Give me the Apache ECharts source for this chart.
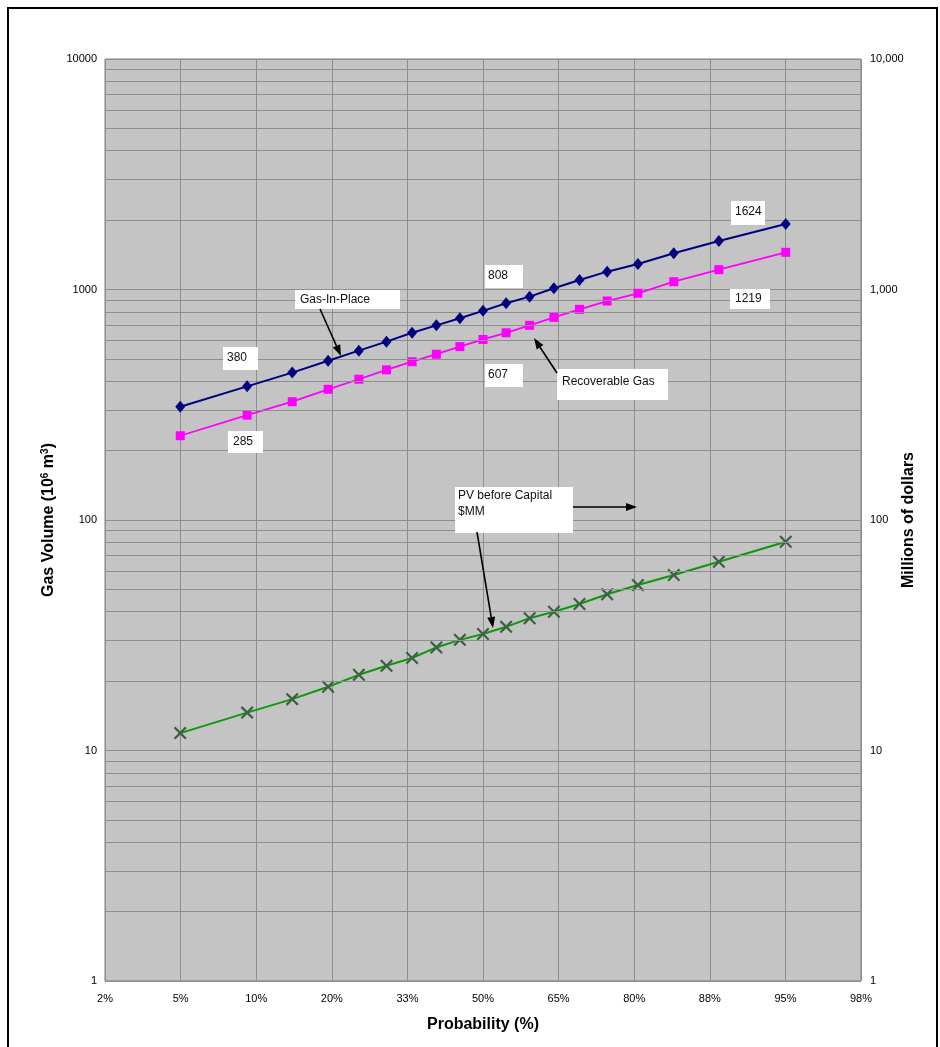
<!DOCTYPE html>
<html><head><meta charset="utf-8">
<script src="https://cdn.jsdelivr.net/npm/echarts@6/dist/echarts.min.js"></script>
<style>html,body{margin:0;padding:0;background:#fff}#c{width:940px;height:1047px}</style>
</head><body><div id="c"></div>
<script>
// ---- data ----
const probabilities = [5,10,15,20,25,30,35,40,45,50,55,60,65,70,75,80,85,90,95];
const gasInPlace = [310,380,436,491,543,594,649,699,750,808,871,931,1012,1100,1195,1290,1436,1624,1923];
const recoverableGas = [232,285,326,369,408,448,486,524,565,607,649,699,757,820,891,963,1081,1219,1450];
const pvBeforeCapital = [11.9,14.6,16.7,18.9,21.3,23.3,25.2,28.0,30.2,32.0,34.4,37.5,40.0,43.2,47.6,52.2,57.7,65.9,80.5];
const xTickLabels = ['2%','5%','10%','20%','33%','50%','65%','80%','88%','95%','98%'];
const minorGridValues = [2,3,4,5,6,7,8,9,20,30,40,50,60,70,80,90,200,300,400,500,600,700,800,900,2000,3000,4000,5000,6000,7000,8000,9000];

// probability scale transform (inverse normal CDF, Acklam)
function probit(p){
  const a=[-39.69683028665376,220.9460984245205,-275.9285104469687,138.3577518672690,-30.66479806614716,2.506628277459239];
  const b=[-54.47609879822406,161.5858368580409,-155.6989798598866,66.80131188771972,-13.28068155288572];
  const c=[-0.007784894002430293,-0.3223964580411365,-2.400758277161838,-2.549732539343734,4.374664141464968,2.938163982698783];
  const d=[0.007784695709041462,0.3224671290700398,2.445134137142996,3.754408661907416];
  const pl=0.02425;
  let q,r;
  if(p<pl){q=Math.sqrt(-2*Math.log(p));return (((((c[0]*q+c[1])*q+c[2])*q+c[3])*q+c[4])*q+c[5])/((((d[0]*q+d[1])*q+d[2])*q+d[3])*q+1);}
  if(p>1-pl){q=Math.sqrt(-2*Math.log(1-p));return -(((((c[0]*q+c[1])*q+c[2])*q+c[3])*q+c[4])*q+c[5])/((((d[0]*q+d[1])*q+d[2])*q+d[3])*q+1);}
  q=p-0.5;r=q*q;
  return (((((a[0]*r+a[1])*r+a[2])*r+a[3])*r+a[4])*r+a[5])*q/(((((b[0]*r+b[1])*r+b[2])*r+b[3])*r+b[4])*r+1);
}
const step = 0.41075;
const xs = probabilities.map(p => probit(p/100));
const pairs = arr => arr.map((v,i)=>[xs[i], v]);

const FONT = '"Liberation Sans", Arial, sans-serif';
const GRID = '#8e8e8e';

// annotation helpers (pixel layer)
function box(x,y,w,h,lines,tx,ty){
  const els=[{type:'rect',shape:{x,y,width:w,height:h},style:{fill:'#fff',stroke:null},z:100}];
  lines.forEach((t,i)=>els.push({type:'text',x:tx,y:ty+i*16,z:101,style:{text:t,fill:'#111',fontSize:12,fontFamily:FONT,verticalAlign:'middle',align:'left'}}));
  return els;
}
function arrow(x1,y1,x2,y2){
  const dx=x2-x1,dy=y2-y1,len=Math.hypot(dx,dy),ux=dx/len,uy=dy/len,L=11,W=4;
  const bx=x2-ux*L,by=y2-uy*L;
  return [
    {type:'line',z:102,shape:{x1,y1,x2:bx,y2:by},style:{stroke:'#000',lineWidth:1.6}},
    {type:'polygon',z:102,shape:{points:[[x2,y2],[bx-uy*W,by+ux*W],[bx+uy*W,by-ux*W]]},style:{fill:'#000'}}
  ];
}
const graphics = [
  {type:'rect',shape:{x:8,y:8,width:929,height:1100},style:{fill:null,stroke:'#000',lineWidth:2},z:0,silent:true},
  ...box(223,347,35,23,['380'],227,358),
  ...box(228,431,35,22,['285'],233,442),
  ...box(295,290,105,19,['Gas-In-Place'],300,300),
  ...box(485,265,38,23,['808'],488,276),
  ...box(485,364,38,23,['607'],488,375),
  ...box(557,369,111,31,['Recoverable Gas'],562,382),
  ...box(731,201,34,24,['1624'],735,212),
  ...box(730,289,40,20,['1219'],735,299),
  ...box(455,487,118,46,['PV before Capital','$MM'],458,496),
  ...arrow(320,309,341,356),
  ...arrow(557,373,534,338),
  ...arrow(573,507,637,507),
  ...arrow(477,532,493,628)
];

const chart = echarts.init(document.getElementById('c'), null, {renderer:'canvas'});
chart.setOption({
  animation:false,
  backgroundColor:'#fff',
  textStyle:{fontFamily:FONT},
  grid:{left:105,right:79,top:59,bottom:66,show:true,backgroundColor:'#c4c4c4',borderColor:'#7a7a7a',borderWidth:1},
  xAxis:{
    type:'value', min:-5*step, max:5*step, interval:step,
    axisLine:{show:false}, axisTick:{show:false},
    splitLine:{show:true,lineStyle:{color:GRID,width:1}},
    axisLabel:{color:'#000',fontSize:11,fontFamily:FONT,margin:12,showMinLabel:true,showMaxLabel:true,
      formatter:v=>xTickLabels[Math.round(v/step)+5]},
    name:'Probability (%)', nameLocation:'middle', nameGap:36, nameMoveOverlap:false,
    nameTextStyle:{fontSize:16,fontWeight:'bold',color:'#000',fontFamily:FONT}
  },
  yAxis:[{
    type:'log', logBase:10, min:1, max:10000, position:'left',
    axisLine:{show:false}, axisTick:{show:false},
    splitLine:{show:true,lineStyle:{color:GRID,width:1}},
    axisLabel:{color:'#000',fontSize:11,fontFamily:FONT,margin:8,showMinLabel:true,showMaxLabel:true,formatter:v=>String(Math.round(v))},
    name:'{a|Gas Volume (10}{s|6}{a| m}{s|3}{a|)}', nameLocation:'middle', nameGap:47, nameRotate:90, nameMoveOverlap:false,
    nameTextStyle:{rich:{a:{fontSize:16,fontWeight:'bold',color:'#000',fontFamily:FONT},s:{fontSize:10,fontWeight:'bold',color:'#000',fontFamily:FONT,verticalAlign:'top',padding:[0,0,8,0]}}}
  },{
    type:'log', logBase:10, min:1, max:10000, position:'right',
    axisLine:{show:false}, axisTick:{show:false}, splitLine:{show:false},
    axisLabel:{color:'#000',fontSize:11,fontFamily:FONT,margin:9,showMinLabel:true,showMaxLabel:true,formatter:v=>Math.round(v).toLocaleString('en-US')},
    name:'Millions of dollars', nameLocation:'middle', nameGap:40, nameRotate:90, nameMoveOverlap:false,
    nameTextStyle:{fontSize:16,fontWeight:'bold',color:'#000',fontFamily:FONT}
  }],
  series:[
    {type:'line',data:[],yAxisIndex:0,silent:true,
      markLine:{silent:true,symbol:'none',label:{show:false},animation:false,
        lineStyle:{color:GRID,width:1,type:'solid'},
        data:minorGridValues.map(v=>({yAxis:v}))}},
    {name:'PV before Capital $MM',type:'line',yAxisIndex:1,data:pairs(pvBeforeCapital),
      lineStyle:{color:'#0a9a0a',width:2},
      symbol:'path://M0,1.2L1.2,0L5,3.8L8.8,0L10,1.2L6.2,5L10,8.8L8.8,10L5,6.2L1.2,10L0,8.8L3.8,5Z',
      symbolSize:13,itemStyle:{color:'#3f5f44'},z:3},
    {name:'Recoverable Gas',type:'line',yAxisIndex:0,data:pairs(recoverableGas),
      lineStyle:{color:'#ff00ff',width:1.8},symbol:'rect',symbolSize:9,itemStyle:{color:'#ff00ff'},z:4},
    {name:'Gas-In-Place',type:'line',yAxisIndex:0,data:pairs(gasInPlace),
      lineStyle:{color:'#000080',width:2},symbol:'diamond',symbolSize:[10,12],itemStyle:{color:'#000080'},z:5}
  ],
  graphic:{elements:graphics}
});
</script></body></html>
